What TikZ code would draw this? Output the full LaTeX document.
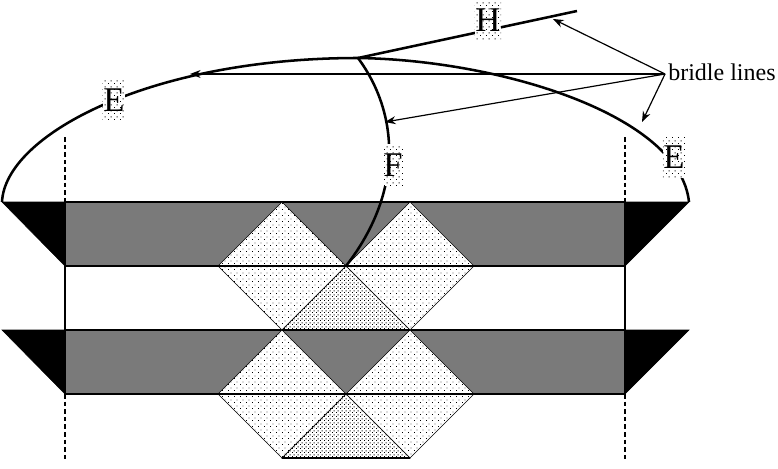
\documentclass[tikz,border=0pt]{standalone}
\usepackage{fontspec}
\setmainfont{Liberation Serif}
\usepackage{tikz}
\usetikzlibrary{arrows.meta,patterns}
% fill patterns of the triangles
\pgfdeclarepatternformonly{light}{\pgfpointorigin}{\pgfqpoint{4.5pt}{4.5pt}}{\pgfqpoint{4.5pt}{4.5pt}}{
  \pgfpathrectangle{\pgfpointorigin}{\pgfqpoint{.75pt}{.75pt}}
  \pgfpathrectangle{\pgfqpoint{2.25pt}{2.25pt}}{\pgfqpoint{.75pt}{.75pt}}
  \pgfusepath{fill}}
\pgfdeclarepatternformonly{medium}{\pgfpointorigin}{\pgfqpoint{3pt}{3pt}}{\pgfqpoint{3pt}{3pt}}{
  \pgfpathrectangle{\pgfpointorigin}{\pgfqpoint{.9pt}{.9pt}}
  \pgfpathrectangle{\pgfqpoint{1.5pt}{1.5pt}}{\pgfqpoint{.9pt}{.9pt}}
  \pgfusepath{fill}}
\begin{document}
\begin{tikzpicture}[
x=.75pt,y=-.75pt,
band/.style={fill=black!52},
lite/.style={draw=black,line width=.5pt,pattern=light,preaction={fill=white}},
midd/.style={draw=black,line width=.5pt,pattern=medium,preaction={fill=white}},
wing/.style={draw=black,fill=black},
post/.style={line width=1.4pt},
dashpost/.style={line width=1.4pt,dash pattern=on 3.5pt off 2.2pt},
rim/.style={line width=1.9pt},
arr/.style={-{Stealth[length=2.8mm,width=2.1mm]},line width=.9pt},
tag/.style={font=\fontsize{26}{26}\selectfont,inner xsep=.5pt,inner ysep=0pt,minimum height=31pt,preaction={fill=white},pattern=light}
]
\useasboundingbox (0,0) rectangle (778,468);
% two bands with their end wings
\foreach \y in {202,330}{
  \fill[band] (65,\y) rectangle (625,\y+64);
  \draw[wing] (2,\y) -- (65,\y) -- (65,\y+64) -- cycle;
  \draw[wing] (625,\y) -- (689,\y) -- (625,\y+64) -- cycle;
  \draw[line width=.9pt] (65,\y) -- (625,\y) (65,\y+64) -- (625,\y+64);
}
% triangles, one row below each band edge
\foreach \y in {202,330}{
  \draw[lite] (282,\y) -- (218,\y+64) -- (346,\y+64) -- cycle;
  \draw[lite] (410,\y) -- (346,\y+64) -- (474,\y+64) -- cycle;
  \draw[lite] (218,\y+64) -- (346,\y+64) -- (282,\y+128) -- cycle;
  \draw[lite] (346,\y+64) -- (474,\y+64) -- (410,\y+128) -- cycle;
  \draw[midd] (346,\y+64) -- (282,\y+128) -- (410,\y+128) -- cycle;
}
\draw[line width=.9pt] (218,266) -- (474,266) (282,330) -- (410,330) (218,394) -- (474,394) (282,458) -- (410,458);
% posts
\foreach \x/\n in {65/a,625/b}{
  \coordinate (top\n) at (\x,137);
  \coordinate (upp\n) at (\x,202);
  \coordinate (low\n) at (\x,394);
  \coordinate (end\n) at (\x,462);
  \draw[dashpost] (top\n) -- (upp\n);
  \draw[post] (upp\n) -- (low\n);
  \draw[dashpost] (low\n) -- (end\n);
}
% canopy edge, gore seam and vent line
\coordinate (edgeL) at (2,202);
\coordinate (crown) at (358,58);
\coordinate (edgeR) at (689,202);
\coordinate (seam) at (346,266);
\coordinate (tip) at (577,11);
\draw[rim] (edgeL) .. controls (5,135) and (150,58) .. (crown);
\draw[rim] (crown) .. controls (500,60) and (680,115) .. (edgeR);
\draw[rim] (crown) .. controls (398,112) and (405,190) .. (seam);
\draw[rim] (crown) -- (tip);
% labels sit on the lines
\node[tag] (e1) at (114,100) {E};
\node[tag] (e2) at (674,157) {E};
\node[tag] (f) at (393,165) {F};
\node[tag] (h) at (488,20) {H};
\node[font=\fontsize{18}{18}\selectfont,inner sep=0pt,anchor=west] (bridle) at (668,72) {bridle lines};
\coordinate (fork) at (665,74);
\coordinate (b1) at (553,19);
\coordinate (b2) at (190,74);
\coordinate (b3) at (385,122);
\coordinate (b4) at (642,122);
\foreach \t in {b1,b2,b3,b4}
  \draw[arr] (fork) -- (\t);
\end{tikzpicture}
\end{document}
